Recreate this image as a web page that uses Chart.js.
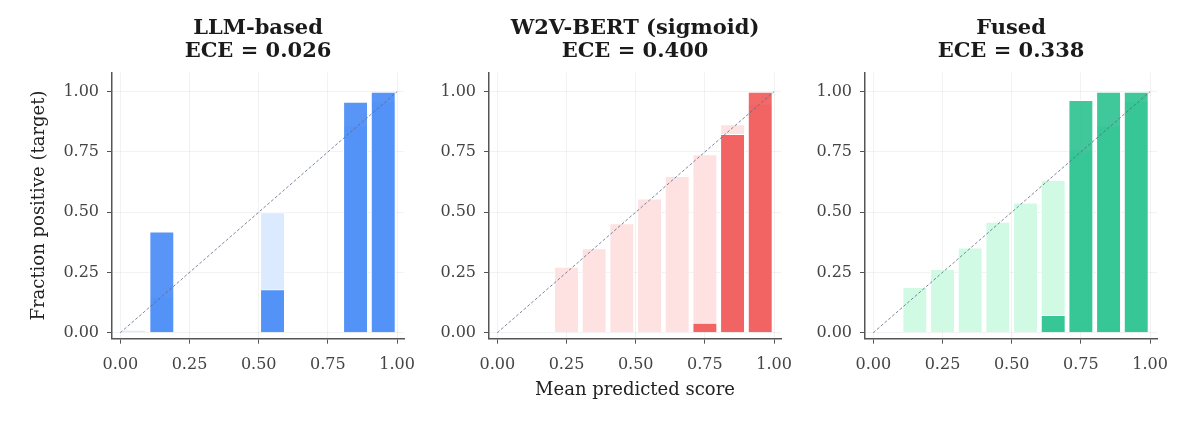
<!DOCTYPE html>
<html>
<head>
    <title>Reliability diagrams</title>
    <script src="https://cdn.jsdelivr.net/npm/chart.js@4.4.1/dist/chart.umd.min.js"></script>
    <style>
        body {
            margin: 0;
            background: #fff;
            overflow: hidden;
        }
        #wrap {
            position: relative;
            width: 1200px;
            height: 428px;
            overflow: hidden;
        }
        .panel {
            position: absolute;
            top: 0;
            width: 516px;
            height: 428px;
        }
    </style>
</head>
<body>
    <div id="wrap">
        <div class="panel" style="left:0px"><canvas id="llmChart"></canvas></div>
        <div class="panel" style="left:376.7px"><canvas id="w2vChart"></canvas></div>
        <div class="panel" style="left:752.7px"><canvas id="fusedChart"></canvas></div>
    </div>

    <script>
        // bin centres, 10 equal bins on [0, 1]
        var binCenters = [0.05, 0.15, 0.25, 0.35, 0.45, 0.55, 0.65, 0.75, 0.85, 0.95];
        var tickValues = [0, 0.25, 0.5, 0.75, 1];
        var diagX = [0, 1];
        var diagY = [0, 1];

        // LLM-based
        var llmTitle = ['LLM-based', 'ECE = 0.026'];
        var llmMeanScore = [0.012, 0.15, null, null, null, 0.50, null, null, 0.86, 0.96];
        var llmFracPos = [null, 0.42, null, null, null, 0.18, null, null, 0.958, 1.0];

        // W2V-BERT (sigmoid)
        var w2vTitle = ['W2V-BERT (sigmoid)', 'ECE = 0.400'];
        var w2vMeanScore = [null, null, 0.274, 0.35, 0.454, 0.557, 0.65, 0.74, 0.865, 0.95];
        var w2vFracPos = [null, null, 0, 0, 0, 0, 0, 0.041, 0.824, 1.0];

        // Fused
        var fusedTitle = ['Fused', 'ECE = 0.338'];
        var fusedMeanScore = [null, 0.19, 0.264, 0.353, 0.46, 0.54, 0.633, 0.76, 0.86, 0.96];
        var fusedFracPos = [null, 0, 0, 0, 0, 0, 0.073, 0.965, 1.0, 1.0];

        var serif = 'DejaVu Serif';

        function makePanel(canvasId, titleLines, meanScore, fracPos, darkColor, lightColor, showYTitle, showXTitle) {
            var light = [];
            var dark = [];
            binCenters.forEach(function (c, i) {
                if (meanScore[i] !== null) light.push({ x: c, y: meanScore[i] });
                if (fracPos[i] !== null) dark.push({ x: c, y: fracPos[i] });
            });
            var diag = diagX.map(function (v, i) { return { x: v, y: diagY[i] }; });

            var setTicks = function (axis) {
                axis.ticks = tickValues.map(function (v) { return { value: v }; });
            };

            new Chart(document.getElementById(canvasId), {
                type: 'bar',
                data: {
                    datasets: [
                        {
                            type: 'line',
                            data: diag,
                            borderColor: 'rgba(90, 105, 135, 0.8)',
                            borderWidth: 1,
                            borderDash: [3, 2],
                            pointRadius: 0,
                            order: 0
                        },
                        {
                            data: dark,
                            backgroundColor: darkColor,
                            borderColor: 'rgba(255, 255, 255, 0.9)',
                            borderWidth: 1,
                            grouped: false,
                            categoryPercentage: 1,
                            barPercentage: 0.9,
                            order: 1
                        },
                        {
                            data: light,
                            backgroundColor: lightColor,
                            borderColor: 'rgba(255, 255, 255, 0.6)',
                            borderWidth: 1,
                            grouped: false,
                            categoryPercentage: 1,
                            barPercentage: 0.9,
                            order: 2
                        }
                    ]
                },
                options: {
                    responsive: true,
                    maintainAspectRatio: false,
                    animation: false,
                    layout: { padding: 0 },
                    plugins: {
                        legend: { display: false },
                        tooltip: { enabled: false },
                        title: {
                            display: true,
                            text: titleLines,
                            color: '#1a1a1a',
                            font: { family: serif, size: 21, weight: 'bold', lineHeight: 1.05 },
                            padding: { top: 18, bottom: 10.3 }
                        }
                    },
                    scales: {
                        x: {
                            type: 'linear',
                            offset: false,
                            min: -0.03,
                            max: 1.025,
                            afterBuildTicks: setTicks,
                            afterFit: function (s) { s.height = 89.3; },
                            ticks: {
                                callback: function (v) { return v.toFixed(2); },
                                color: '#444',
                                font: { family: serif, size: 16 },
                                padding: 12,
                                maxRotation: 0,
                                autoSkip: false
                            },
                            grid: { offset: false, color: 'rgba(0, 0, 0, 0.05)', tickColor: '#555', tickLength: 5, tickWidth: 1 },
                            border: { color: '#555', width: 1.5 },
                            title: {
                                display: showXTitle,
                                text: 'Mean predicted score',
                                color: '#222',
                                font: { family: serif, size: 18 },
                                padding: { top: 0, bottom: 27.2 }
                            }
                        },
                        y: {
                            type: 'linear',
                            min: -0.025,
                            max: 1.08,
                            afterBuildTicks: setTicks,
                            afterFit: function (s) { s.width = 112; },
                            ticks: {
                                callback: function (v) { return v.toFixed(2); },
                                color: '#444',
                                font: { family: serif, size: 16 },
                                padding: 8
                            },
                            grid: { color: 'rgba(0, 0, 0, 0.05)', tickColor: '#555', tickLength: 5, tickWidth: 1 },
                            border: { color: '#555', width: 1.5 },
                            title: {
                                display: showYTitle,
                                text: 'Fraction positive (target)',
                                color: '#222',
                                font: { family: serif, size: 18 },
                                padding: { top: 28.2, bottom: 0 }
                            }
                        },
                        // empty right-hand axis so the title centres over the plot
                        yPad: {
                            type: 'linear',
                            position: 'right',
                            afterFit: function (s) { s.width = 112; },
                            ticks: { display: false },
                            grid: { display: false },
                            border: { display: false }
                        }
                    }
                }
            });
        }

        makePanel('llmChart', llmTitle, llmMeanScore, llmFracPos, 'rgba(59, 130, 246, 0.85)', '#dbeafe', true, false);
        makePanel('w2vChart', w2vTitle, w2vMeanScore, w2vFracPos, 'rgba(239, 68, 68, 0.8)', '#fee2e2', false, true);
        makePanel('fusedChart', fusedTitle, fusedMeanScore, fusedFracPos, 'rgba(16, 185, 129, 0.8)', '#d1fae5', false, false);
    </script>
</body>
</html>
